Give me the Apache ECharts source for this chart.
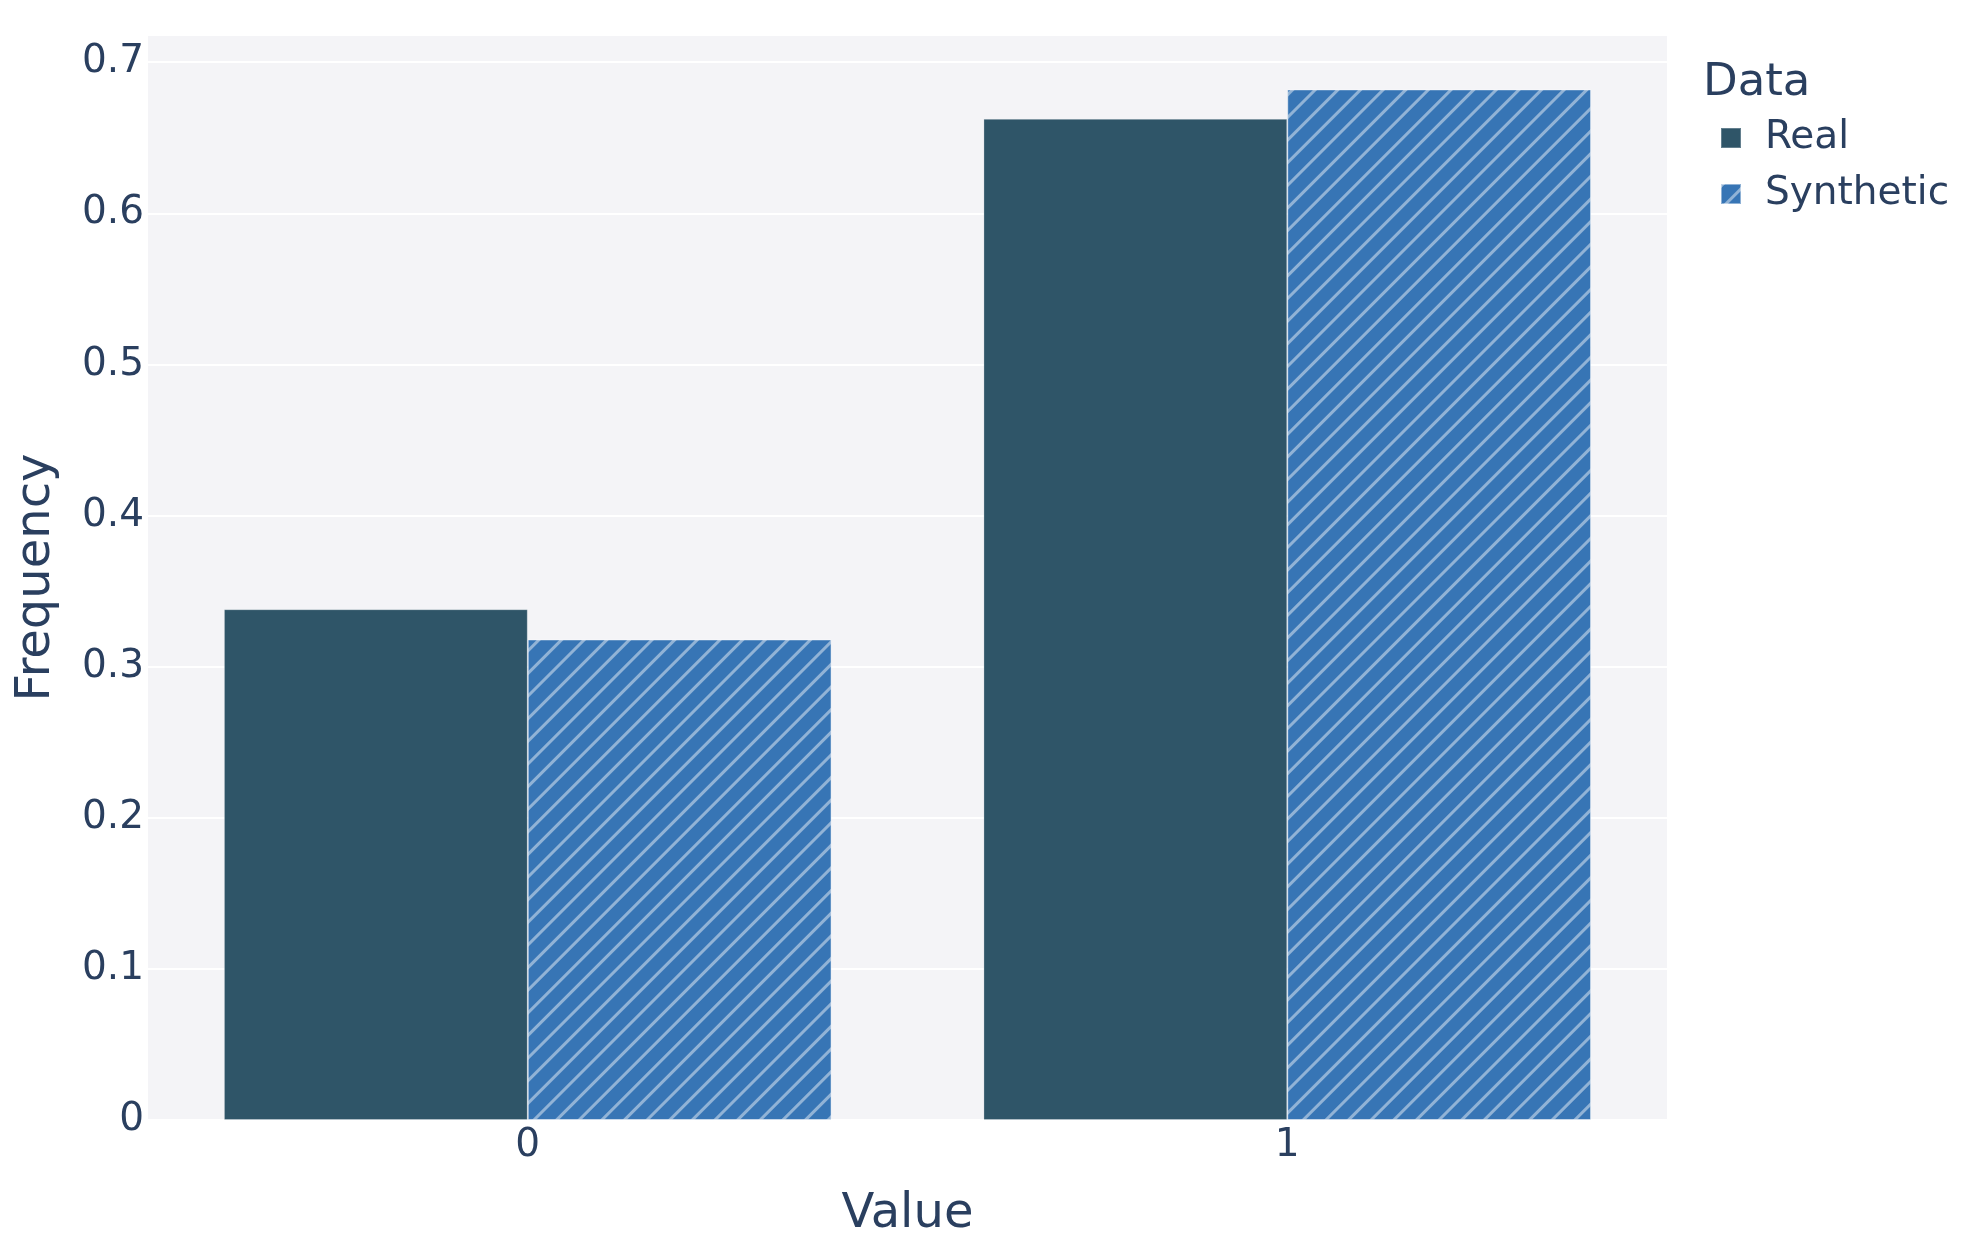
<!DOCTYPE html>
<html>
<head>
<meta charset="utf-8">
<script src="https://cdn.jsdelivr.net/npm/echarts@6/dist/echarts.min.js"></script>
<style>
  html, body { margin: 0; padding: 0; background: #fff; }
  #app { width: 1964px; height: 1253px; }
</style>
</head>
<body>
<div id="app"></div>
<script>
// categories and frequencies
const categories = ['0', '1'];
const realValues = [0.338, 0.6625];
const syntheticValues = [0.318, 0.682];
const yTicks = { min: 0, max: 0.718, interval: 0.1 };

const textColor = '#2a3f5f';
const fontFamily = '"DejaVu Sans", Verdana, sans-serif';

const myChart = echarts.init(document.getElementById('app'));
const option = {
  textStyle: { fontFamily: fontFamily },
  title: {
    //legend title
    text: 'Data',
    left: 1703,
    top: 61,
    padding: 0,
    textStyle: {
      fontSize: 45,
      fontWeight: 'normal',
      color: textColor,
      fontFamily: fontFamily
    }
  },
  legend: {
    orient: 'vertical',
    left: 1720,
    top: 118,
    padding: 0,
    itemWidth: 20,
    itemHeight: 20,
    itemGap: 16,
    icon: 'rect',
    textStyle: {
      fontSize: 39,
      lineHeight: 40,
      color: textColor,
      fontFamily: fontFamily,
      padding: [0, 0, 0, 19]
    },
    data: ['Real', 'Synthetic']
  },
  grid: {
    left: 148,
    right: 297,
    top: 35,
    bottom: 133,
    show: true,
    backgroundColor: '#f4f4f7',
    borderWidth: 0
  },
  xAxis: {
    type: 'category',
    data: categories,
    name: 'Value',
    nameLocation: 'middle',
    nameGap: 71,
    nameTextStyle: { fontSize: 48, color: textColor, fontFamily: fontFamily },
    axisTick: { show: false },
    axisLine: { show: false },
    axisLabel: { fontSize: 39, color: textColor, margin: 6, fontFamily: fontFamily }
  },
  yAxis: {
    type: 'value',
    min: yTicks.min,
    max: yTicks.max,
    interval: yTicks.interval,
    name: 'Frequency',
    nameLocation: 'middle',
    nameGap: 87,
    nameTextStyle: { fontSize: 48, color: textColor, fontFamily: fontFamily },
    axisLine: { show: false },
    axisTick: { show: false },
    splitLine: { lineStyle: { color: '#ffffff', width: 2 } },
    axisLabel: {
      fontSize: 39,
      color: textColor,
      margin: 4,
      showMaxLabel: false,
      fontFamily: fontFamily,
      formatter: function (val) {
        return val === 0 ? '0' : val.toFixed(1);
      }
    }
  },
  series: [
    {
      name: 'Real',
      type: 'bar',
      data: realValues,
      barGap: 0,
      barCategoryGap: '20%',
      itemStyle: {
        color: '#2f5568',
        borderColor: 'rgba(255,255,255,0.25)',
        borderWidth: 1
      }
    },
    {
      name: 'Synthetic',
      type: 'bar',
      data: syntheticValues,
      barGap: 0,
      barCategoryGap: '20%',
      itemStyle: {
        color: '#3775b5',
        borderColor: 'rgba(255,255,255,0.25)',
        borderWidth: 1,
        decal: {
          symbol: 'rect',
          symbolSize: 1,
          dashArrayX: [1, 0],
          dashArrayY: [2.5, 13],
          rotation: -Math.PI / 4,
          color: 'rgba(255,255,255,0.45)'
        }
      }
    }
  ]
};

myChart.setOption(option);
</script>
</body>
</html>
